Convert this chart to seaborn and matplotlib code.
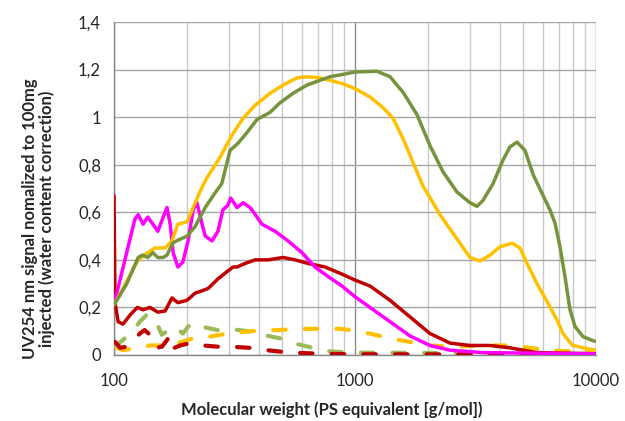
import numpy as np
import pandas as pd
import seaborn as sns
import matplotlib.pyplot as plt
from matplotlib.ticker import FixedLocator, NullFormatter, FuncFormatter

# Molecular weight (g/mol) and UV254 signal for each fraction
green_mw = [100, 113, 126, 131, 138, 145, 152, 160, 166, 175, 182, 201, 217, 239, 262, 280, 303,
            327, 356, 392, 444, 488, 553, 632, 716, 788, 892, 1000, 1234, 1397, 1582, 1809, 2048,
            2318, 2650, 3000, 3208, 3397, 3738, 4113, 4397, 4701, 5075, 5478, 5969, 6444, 6758,
            7090, 7436, 7800, 8184, 8833, 9718, 10000]
green_sig = [0.21, 0.30, 0.41, 0.42, 0.41, 0.43, 0.41, 0.41, 0.42, 0.47, 0.48, 0.50, 0.54, 0.62,
             0.68, 0.72, 0.86, 0.89, 0.935, 0.99, 1.02, 1.06, 1.10, 1.135, 1.155, 1.17, 1.18,
             1.19, 1.193, 1.17, 1.105, 1.01, 0.88, 0.77, 0.685, 0.64, 0.625, 0.65, 0.72, 0.82,
             0.875, 0.895, 0.86, 0.76, 0.68, 0.61, 0.555, 0.455, 0.33, 0.19, 0.12, 0.077, 0.06,
             0.057]

yellow_mw = [100, 113, 126, 138, 148, 163, 174, 184, 201, 213, 228, 243, 275, 309, 343, 385, 444,
             503, 575, 632, 716, 788, 892, 1000, 1154, 1307, 1438, 1582, 1741, 1915, 2108, 2252,
             2727, 3000, 3302, 3633, 3997, 4482, 4837, 5173, 5691, 6262, 6891, 7297, 7950, 8833,
             10000]
yellow_sig = [0.21, 0.31, 0.40, 0.43, 0.45, 0.45, 0.48, 0.55, 0.56, 0.62, 0.69, 0.745, 0.83,
              0.925, 0.995, 1.05, 1.10, 1.135, 1.165, 1.17, 1.165, 1.155, 1.14, 1.12, 1.085,
              1.04, 0.995, 0.91, 0.81, 0.71, 0.64, 0.59, 0.47, 0.41, 0.395, 0.42, 0.455, 0.47,
              0.45, 0.385, 0.30, 0.225, 0.147, 0.09, 0.042, 0.03, 0.02]

magenta_mw = [101, 122, 126, 132, 138, 145, 152, 160, 166, 171, 176, 184, 193, 203, 213, 221,
              232, 239, 255, 270, 283, 297, 305, 324, 343, 367, 392, 411, 466, 527, 603, 682,
              773, 883, 1000, 1154, 1397, 1692, 2048, 2479, 3397, 10000]
magenta_sig = [0.23, 0.57, 0.59, 0.55, 0.58, 0.55, 0.52, 0.58, 0.62, 0.55, 0.43, 0.37, 0.39,
               0.48, 0.61, 0.64, 0.55, 0.50, 0.48, 0.52, 0.61, 0.63, 0.66, 0.62, 0.64, 0.62,
               0.58, 0.55, 0.52, 0.48, 0.43, 0.37, 0.33, 0.29, 0.245, 0.20, 0.14, 0.08, 0.04,
               0.02, 0.01, 0.005]

red_mw = [100, 101, 104, 109, 117, 125, 132, 141, 152, 163, 174, 184, 201, 217, 232, 246, 270,
          294, 312, 324, 350, 385, 436, 503, 564, 638, 751, 883, 1000, 1154, 1397, 1692, 2048,
          2479, 3000, 3633, 4397, 5691, 10000]
red_sig = [0.67, 0.22, 0.14, 0.13, 0.17, 0.20, 0.19, 0.20, 0.18, 0.185, 0.24, 0.22, 0.23, 0.26,
           0.27, 0.28, 0.32, 0.35, 0.37, 0.37, 0.385, 0.40, 0.40, 0.41, 0.40, 0.385, 0.37, 0.34,
           0.315, 0.29, 0.23, 0.16, 0.09, 0.05, 0.04, 0.04, 0.03, 0.01, 0.005]

green_d_mw = [101, 108, 117, 128, 137, 141, 148, 158, 171, 179, 193, 207, 217, 228, 268, 303,
              356, 392, 488, 553, 670, 788, 981, 10000]
green_d_sig = [0.035, 0.06, 0.09, 0.14, 0.17, 0.16, 0.15, 0.085, 0.11, 0.12, 0.09, 0.13, 0.135,
               0.12, 0.105, 0.11, 0.10, 0.09, 0.07, 0.05, 0.03, 0.015, 0.01, 0.005]

yellow_d_mw = [103, 109, 141, 160, 183, 213, 243, 275, 303, 367, 475, 632, 867, 954, 1154, 1397,
               1692, 2048, 2479, 3397, 4397, 5323, 6444, 8833, 10000]
yellow_d_sig = [0.03, 0.02, 0.04, 0.04, 0.05, 0.07, 0.075, 0.085, 0.09, 0.10, 0.105, 0.11, 0.11,
                0.105, 0.09, 0.07, 0.055, 0.04, 0.035, 0.04, 0.04, 0.03, 0.018, 0.015, 0.012]

red_d_mw = [101, 106, 113, 128, 134, 141, 150, 158, 166, 171, 178, 188, 207, 234, 268, 303, 367,
            431, 537, 737, 1019, 10000]
red_d_sig = [0.055, 0.03, 0.035, 0.09, 0.105, 0.085, 0.03, 0.035, 0.063, 0.085, 0.03, 0.04,
             0.05, 0.04, 0.035, 0.035, 0.03, 0.02, 0.01, 0.005, 0.003, 0.002]

x_ticks = [100, 1000, 10000]
y_ticks = [0, 0.2, 0.4, 0.6, 0.8, 1.0, 1.2, 1.4]

sns.set_style("white")
plt.rcParams['font.family'] = ['Lato', 'DejaVu Sans']

fig = plt.figure(figsize=(6.25, 4.21), dpi=100)
ax = fig.add_axes([0.1824, 0.1568, 0.7712, 0.7909])
ax.set_xscale("log")

dash = (0, (3.0, 4.6))
series = [
    (green_d_mw, green_d_sig, "#9BBB59", dash, 3.0),
    (yellow_d_mw, yellow_d_sig, "#FFC000", dash, 3.0),
    (red_d_mw, red_d_sig, "#C00000", dash, 3.0),
    (red_mw, red_sig, "#C00000", "-", 2.5),
    (magenta_mw, magenta_sig, "#FF00FF", "-", 2.5),
    (yellow_mw, yellow_sig, "#FFC000", "-", 2.5),
    (green_mw, green_sig, "#77933C", "-", 2.5),
]
for mw, sig, color, ls, lw in series:
    sns.lineplot(x=mw, y=sig, ax=ax, color=color, linestyle=ls, linewidth=lw,
                 sort=False, estimator=None, dash_capstyle="round",
                 solid_capstyle="round", solid_joinstyle="round", zorder=3)

ax.set_xlim(100, 10000)
ax.set_ylim(0, 1.4)
ax.xaxis.set_major_locator(FixedLocator(x_ticks))
ax.xaxis.set_minor_locator(FixedLocator(
    [m * d for d in (100, 1000) for m in range(2, 10)]))
ax.xaxis.set_minor_formatter(NullFormatter())
ax.xaxis.set_major_formatter(FuncFormatter(lambda v, p: f"{v:.0f}"))
ax.yaxis.set_major_locator(FixedLocator(y_ticks))
ax.yaxis.set_major_formatter(FuncFormatter(
    lambda v, p: "0" if v == 0 else (f"{v:.0f}" if abs(v - 1) < 1e-9 else f"{v:.1f}".replace(".", ","))))

ax.grid(which="major", axis="y", color="#A6A6A6", linewidth=1.0, zorder=0)
ax.grid(which="major", axis="x", color="#8C8C8C", linewidth=1.0, zorder=0)
ax.grid(which="minor", axis="x", color="#C8C8C8", linewidth=1.0, zorder=0)
ax.set_axisbelow(True)

for side in ("top", "right"):
    ax.spines[side].set_visible(False)
for side in ("left", "bottom"):
    ax.spines[side].set_color("#868686")
    ax.spines[side].set_linewidth(1.0)

ax.tick_params(axis="both", which="major", direction="out", length=4.3, width=1.0,
               color="#868686", labelsize=12, labelcolor="#262626", pad=5)
ax.tick_params(axis="x", which="minor", length=0)
ax.tick_params(axis="x", which="major", pad=9)

ax.set_xlabel("Molecular weight (PS equivalent [g/mol])", fontsize=12, fontweight="bold",
              color="#262626")
ax.xaxis.set_label_coords(0.452, -0.14)
ax.set_ylabel("UV254 nm signal nomalized to 100mg\ninjected (water content correction)",
              fontsize=12, fontweight="bold", color="#262626", linespacing=1.0)
ax.yaxis.set_label_coords(-0.123, 0.41)

fig.savefig("out.png", dpi=100, facecolor="white")
